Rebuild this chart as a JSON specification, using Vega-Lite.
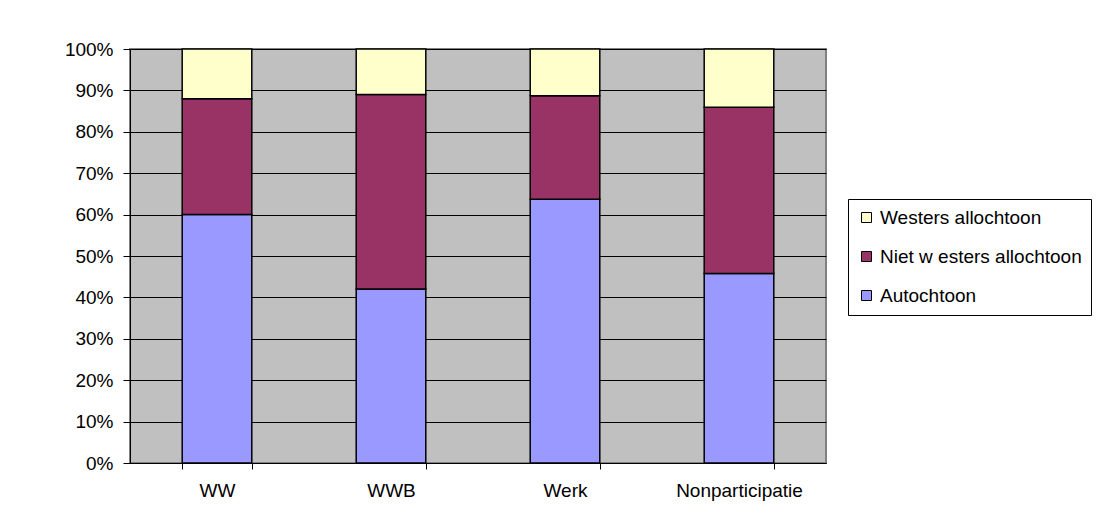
{
  "$schema": "https://vega.github.io/schema/vega-lite/v6.json",
  "autosize": {"type": "none"},
  "width": 696,
  "height": 414,
  "padding": {"left": 130, "top": 49, "right": 278, "bottom": 68},
  "background": "white",
  "data": {
    "values": [
      {"cat": "WW", "group": "Autochtoon", "pct": 0.60},
      {"cat": "WW", "group": "Niet w esters allochtoon", "pct": 0.28},
      {"cat": "WW", "group": "Westers allochtoon", "pct": 0.12},
      {"cat": "WWB", "group": "Autochtoon", "pct": 0.42},
      {"cat": "WWB", "group": "Niet w esters allochtoon", "pct": 0.47},
      {"cat": "WWB", "group": "Westers allochtoon", "pct": 0.11},
      {"cat": "Werk", "group": "Autochtoon", "pct": 0.637},
      {"cat": "Werk", "group": "Niet w esters allochtoon", "pct": 0.25},
      {"cat": "Werk", "group": "Westers allochtoon", "pct": 0.113},
      {"cat": "Nonparticipatie", "group": "Autochtoon", "pct": 0.458},
      {"cat": "Nonparticipatie", "group": "Niet w esters allochtoon", "pct": 0.401},
      {"cat": "Nonparticipatie", "group": "Westers allochtoon", "pct": 0.141}
    ]
  },
  "mark": {"type": "bar", "stroke": "black", "strokeWidth": 1.5},
  "encoding": {
    "x": {
      "field": "cat",
      "type": "nominal",
      "sort": ["WW", "WWB", "Werk", "Nonparticipatie"],
      "scale": {"paddingInner": 0.6, "paddingOuter": 0.3},
      "axis": {
        "title": null,
        "labelAngle": 0,
        "domainColor": "black",
        "tickColor": "black",
        "tickBand": "extent",
        "tickSize": 6,
        "labelPadding": 12,
        "labelFontSize": 19,
        "labelColor": "black"
      }
    },
    "y": {
      "field": "pct",
      "type": "quantitative",
      "stack": "zero",
      "scale": {"domain": [0, 1], "nice": false},
      "axis": {
        "title": null,
        "format": ".0%",
        "values": [0, 0.1, 0.2, 0.3, 0.4, 0.5, 0.6, 0.7, 0.8, 0.9, 1],
        "grid": true,
        "gridColor": "black",
        "gridOpacity": 1,
        "gridWidth": 1,
        "domainColor": "black",
        "tickColor": "black",
        "tickSize": 7,
        "labelPadding": 10,
        "labelFontSize": 19,
        "labelColor": "black"
      }
    },
    "color": {
      "field": "group",
      "type": "nominal",
      "scale": {
        "domain": ["Westers allochtoon", "Niet w esters allochtoon", "Autochtoon"],
        "range": ["#FFFFCC", "#993366", "#9999FF"]
      },
      "legend": {
        "title": null,
        "orient": "none",
        "legendX": 718,
        "legendY": 150,
        "symbolType": "square",
        "symbolSize": 100,
        "symbolStrokeColor": "black",
        "symbolStrokeWidth": 1,
        "labelFontSize": 19,
        "labelColor": "black",
        "labelLimit": 400,
        "rowPadding": 19,
        "padding": 9,
        "strokeColor": "black",
        "fillColor": "white"
      }
    },
    "order": {"field": "group", "sort": "ascending"}
  },
  "config": {
    "font": "Liberation Sans",
    "view": {"fill": "#C0C0C0", "stroke": "#808080", "strokeWidth": 2}
  }
}
